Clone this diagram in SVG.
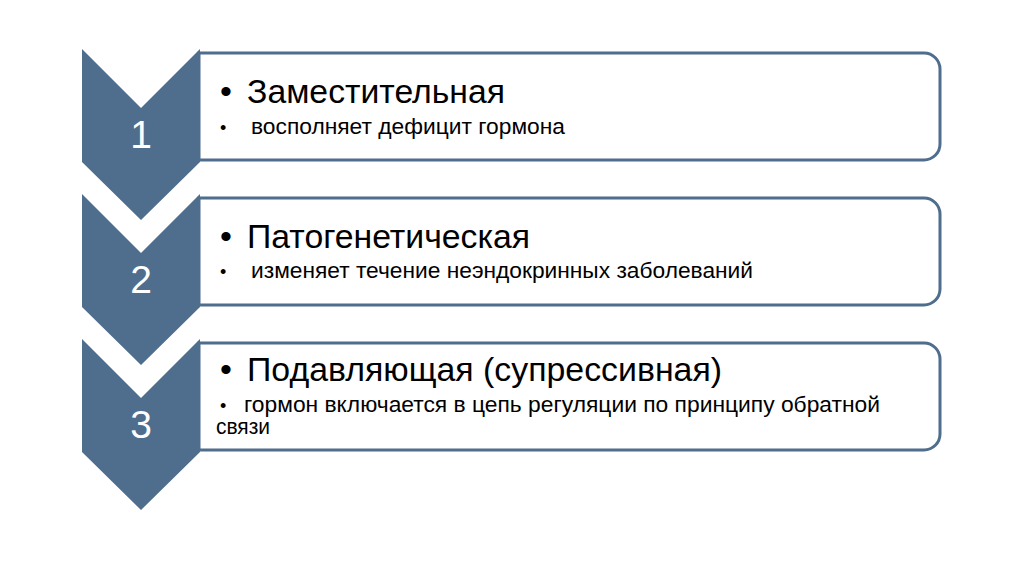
<svg xmlns="http://www.w3.org/2000/svg" width="1024" height="574" viewBox="0 0 1024 574">
<style>
.chev{fill:#4f6d8c}
.box{fill:#ffffff;stroke:#4f6d8c;stroke-width:3}
.num{font-family:"Liberation Sans",Arial,sans-serif;font-size:39px;fill:#ffffff;text-anchor:middle}
.h{font-family:"Liberation Sans",Arial,sans-serif;font-size:34px;fill:#000000}
.s{font-family:"Liberation Sans",Arial,sans-serif;font-size:22px;fill:#000000}
.bs{font-family:"Liberation Sans",Arial,sans-serif;font-size:18px;fill:#000000}
</style>
<rect width="1024" height="574" fill="#ffffff"/>
<g id="connectors"></g>
<g id="step1">
<path class="box" d="M199 53 H924 A16 16 0 0 1 940 69 V144 A16 16 0 0 1 924 160 H199 Z"/>
<path class="chev" d="M82 49 L200 49 L200 162 L141 220 L82 162 L82 49 Z M82 49 L141 108 L200 49 Z" fill-rule="evenodd"/>
<text class="num" x="141" y="148">1</text>
<text class="h" x="220" y="103">•</text>
<text class="h" x="247" y="103" textLength="258" lengthAdjust="spacingAndGlyphs">Заместительная</text>
<text class="bs" x="220" y="134">•</text>
<text class="s" x="251" y="134" textLength="314" lengthAdjust="spacingAndGlyphs">восполняет дефицит гормона</text>
</g>
<g id="step2">
<path class="box" d="M199 198 H924 A16 16 0 0 1 940 214 V289 A16 16 0 0 1 924 305 H199 Z"/>
<path class="chev" d="M82 194 L200 194 L200 307 L141 365 L82 307 L82 194 Z M82 194 L141 253 L200 194 Z" fill-rule="evenodd"/>
<text class="num" x="141" y="293">2</text>
<text class="h" x="220" y="248">•</text>
<text class="h" x="247" y="248" textLength="283" lengthAdjust="spacingAndGlyphs">Патогенетическая</text>
<text class="bs" x="220" y="278">•</text>
<text class="s" x="251" y="278" textLength="502" lengthAdjust="spacingAndGlyphs">изменяет течение неэндокринных заболеваний</text>
</g>
<g id="step3">
<path class="box" d="M199 343 H924 A16 16 0 0 1 940 359 V434 A16 16 0 0 1 924 450 H199 Z"/>
<path class="chev" d="M82 339 L200 339 L200 452 L141 510 L82 452 L82 339 Z M82 339 L141 398 L200 339 Z" fill-rule="evenodd"/>
<text class="num" x="141" y="438">3</text>
<text class="h" x="220" y="381">•</text>
<text class="h" x="247" y="381" textLength="475" lengthAdjust="spacingAndGlyphs">Подавляющая (супрессивная)</text>
<text class="bs" x="220" y="412">•</text>
<text class="s" x="244" y="412" textLength="636" lengthAdjust="spacingAndGlyphs">гормон включается в цепь регуляции по принципу обратной</text>
<text class="s" x="216" y="434" textLength="54" lengthAdjust="spacingAndGlyphs">связи</text>
</g>
</svg>
